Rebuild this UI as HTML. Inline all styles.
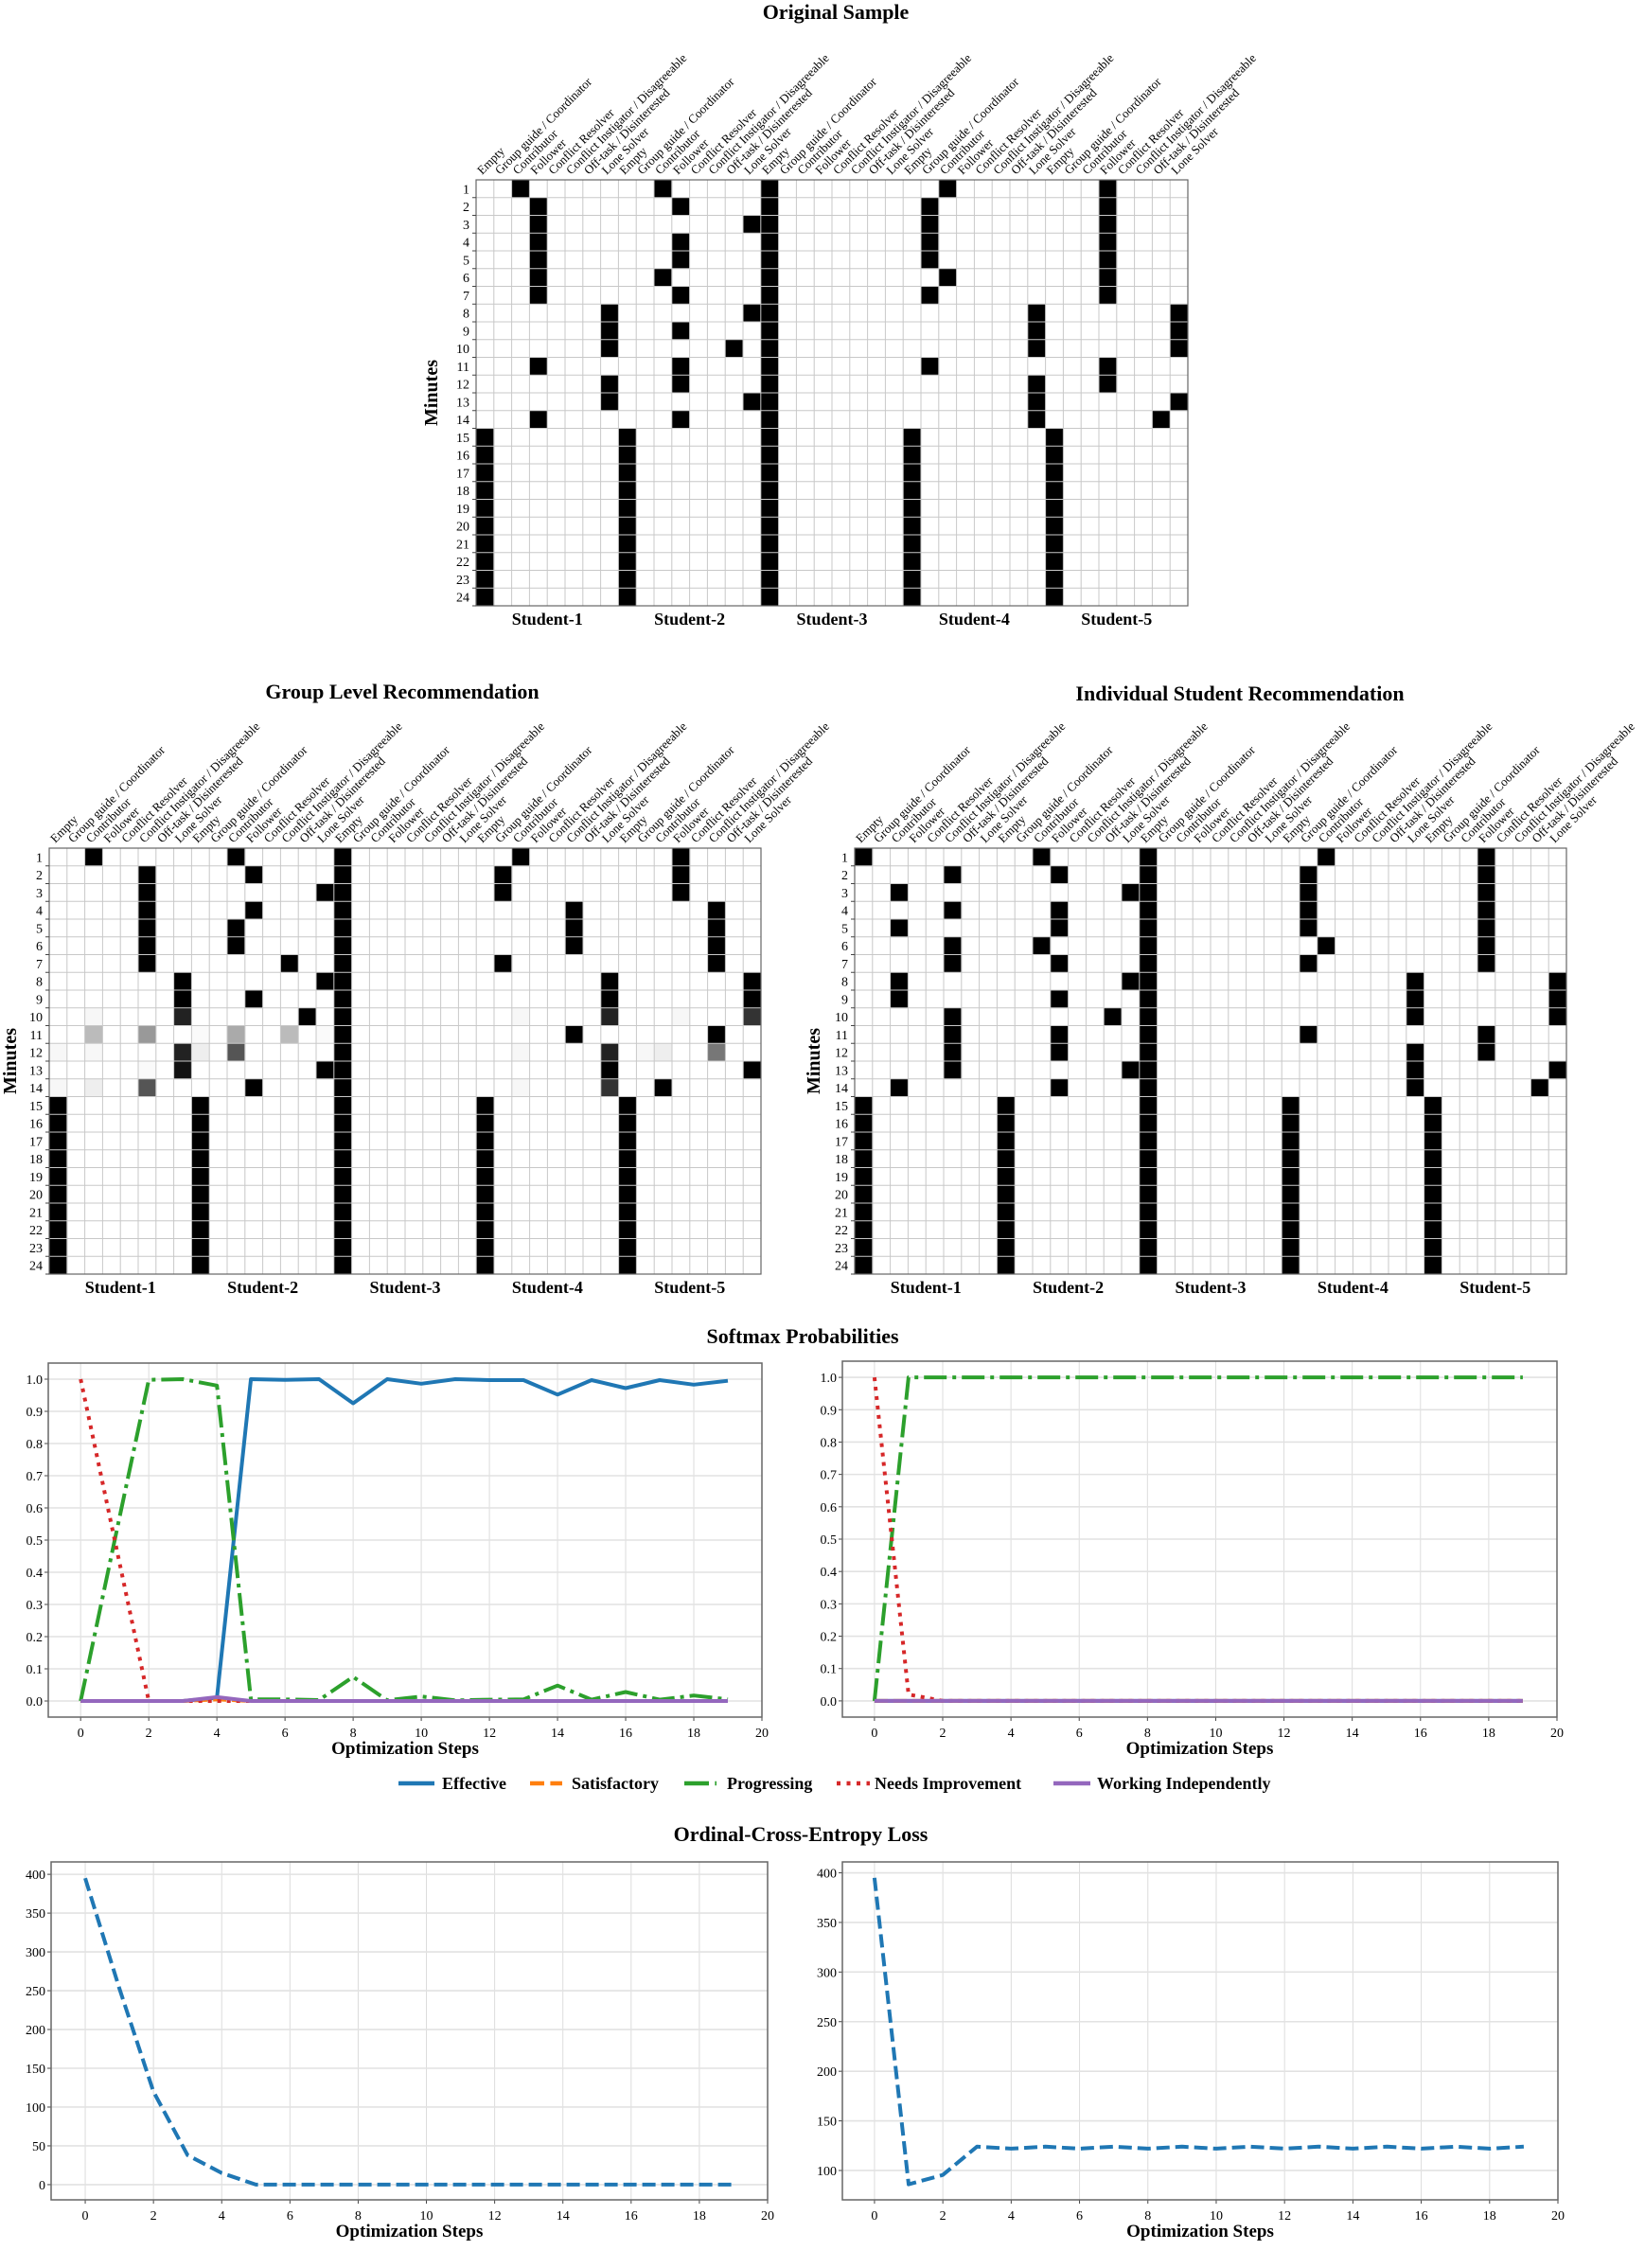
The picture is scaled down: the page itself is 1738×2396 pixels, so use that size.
<!DOCTYPE html>
<html><head><meta charset="utf-8">
<style>
html,body{margin:0;padding:0;background:#fff;}
svg{display:block;}
text{font-family:"Liberation Serif","Times New Roman",serif;fill:#000;}
</style></head>
<body>
<svg id="s" width="1738" height="2396" viewBox="0 0 1738 2396" xmlns="http://www.w3.org/2000/svg">
<rect width="1738" height="2396" fill="#fff"/>
<text x="883" y="20" font-size="22" font-weight="bold" text-anchor="middle">Original Sample</text>
<text x="425" y="738" font-size="22" font-weight="bold" text-anchor="middle">Group Level Recommendation</text>
<text x="1310" y="740" font-size="22" font-weight="bold" text-anchor="middle">Individual Student Recommendation</text>
<text x="848" y="1419" font-size="22" font-weight="bold" text-anchor="middle">Softmax Probabilities</text>
<text x="846" y="1945" font-size="22" font-weight="bold" text-anchor="middle">Ordinal-Cross-Entropy Loss</text>
<g id="legend" font-size="18" font-weight="bold">
<line x1="421" y1="1884" x2="459" y2="1884" stroke="#1f77b4" stroke-width="4.5"/>
<text x="467" y="1890">Effective</text>
<line x1="560" y1="1884" x2="594" y2="1884" stroke="#ff7f0e" stroke-width="4.5" stroke-dasharray="15 6.4"/>
<text x="604" y="1890">Satisfactory</text>
<line x1="723" y1="1884" x2="757" y2="1884" stroke="#2ca02c" stroke-width="4.5" stroke-dasharray="26 6.4 4 6.4"/>
<text x="768" y="1890">Progressing</text>
<line x1="884" y1="1884" x2="919" y2="1884" stroke="#d62728" stroke-width="4.5" stroke-dasharray="4 6.5"/>
<text x="924" y="1890">Needs Improvement</text>
<line x1="1113" y1="1884" x2="1152" y2="1884" stroke="#9467bd" stroke-width="4.5"/>
<text x="1159" y="1890">Working Independently</text>
</g>
</svg>
<script>
(function(){
var svg=document.getElementById('s');var NS='http://www.w3.org/2000/svg';
function el(tag,attrs,txt){var e=document.createElementNS(NS,tag);for(var k in attrs)e.setAttribute(k,attrs[k]);if(txt!==undefined)e.textContent=txt;svg.appendChild(e);return e;}
var roles=["Empty","Group guide / Coordinator","Contributor","Follower","Conflict Resolver","Conflict Instigator / Disagreeable","Off-task / Disinterested","Lone Solver"];
var CW=752/40,CH=450/24;
function tail(rows){for(var r=14;r<24;r++)rows.push([[0],[8],[24],[32]]);return rows;}
function heat(x0,y0,rows,minX){
  for(var r=0;r<24;r++){
    el('rect',{x:x0+16*CW,y:y0+r*CH,width:CW,height:CH,fill:'#000'});
    var row=rows[r];
    for(var i=0;i<row.length;i++){var c=row[i][0],col=row[i][1]||'#000';
      el('rect',{x:x0+c*CW,y:y0+r*CH,width:CW+0.3,height:CH+0.3,fill:col});}
  }
  for(var c=0;c<=40;c++)el('line',{x1:x0+c*CW,y1:y0,x2:x0+c*CW,y2:y0+450,stroke:'#c8c8c8','stroke-width':1});
  for(var r=0;r<=24;r++)el('line',{x1:x0,y1:y0+r*CH,x2:x0+752,y2:y0+r*CH,stroke:'#c8c8c8','stroke-width':1});
  el('rect',{x:x0,y:y0,width:752,height:450,fill:'none',stroke:'#666','stroke-width':1.2});
  for(var r=0;r<24;r++){
    el('text',{x:x0-7,y:y0+r*CH+CH/2+5,'font-size':14,'text-anchor':'end'},String(r+1));
    el('line',{x1:x0-4,y1:y0+(r+1)*CH,x2:x0,y2:y0+(r+1)*CH,stroke:'#444','stroke-width':1});
  }
  for(var c=0;c<40;c++){
    var cx=x0+c*CW+CW/2-3,cy=y0-5;
    el('text',{x:cx,y:cy,'font-size':13,transform:'rotate(-45 '+cx+' '+cy+')'},roles[c%8]);
  }
  for(var s=0;s<5;s++)el('text',{x:x0+(s*8+4)*CW,y:y0+470,'font-size':18,'font-weight':'bold','text-anchor':'middle'},'Student-'+(s+1));
  el('text',{x:minX,y:y0+225,'font-size':20,'font-weight':'bold','text-anchor':'middle',transform:'rotate(-90 '+minX+' '+(y0+225)+')'},'Minutes');
}
function R(a){return a.map(function(v){return Array.isArray(v)?v:[v];});}
var orig=tail([R([2,10,26,35]),R([3,11,25,35]),R([3,15,25,35]),R([3,11,25,35]),R([3,11,25,35]),R([3,10,26,35]),R([3,11,25,35]),R([7,15,31,39]),R([7,11,31,39]),R([7,14,31,39]),R([3,11,25,35]),R([7,11,31,35]),R([7,15,31,39]),R([3,11,31,38])]);
var F='#f7f7f7';
var grp=tail([R([2,10,26,35]),R([5,11,25,35]),R([5,15,25,35]),R([5,11,29,37]),R([5,10,29,37]),R([5,10,29,37]),R([5,13,25,37]),R([7,15,31,39]),R([7,11,31,39]),
 [[2,F],[26,F],[35,F],[7,'#222'],[14],[31,'#222'],[39,'#333']],
 [[8,'#fafafa'],[15,'#fafafa'],[2,'#bbb'],[5,'#999'],[10,'#aaa'],[13,'#bbb'],[29],[37]],
 [[0,F],[2,F],[26,F],[33,F],[7,'#222'],[8,'#eee'],[10,'#555'],[31,'#222'],[34,'#eee'],[37,'#777']],
 [[5,'#fafafa'],[7,'#111'],[15],[31],[39]],
 [[0,F],[26,F],[2,'#eee'],[5,'#555'],[11],[31,'#333'],[34]]]);
var ind=tail([R([0,10,26,35]),R([5,11,25,35]),R([2,15,25,35]),R([5,11,25,35]),R([2,11,25,35]),R([5,10,26,35]),R([5,11,25,35]),R([2,15,31,39]),R([2,11,31,39]),R([5,14,31,39]),R([5,11,25,35]),R([5,11,31,35]),R([5,15,31,39]),R([2,11,31,38])]);
heat(503,190,orig,462);
heat(52,896,grp,17);
heat(903,896,ind,866);

function plot(ax,xr,yr,yt,fmt,series){
  var sx=function(v){return ax.l+(v-xr[0])/(xr[1]-xr[0])*(ax.r-ax.l);};
  var sy=function(v){return ax.b-(v-yr[0])/(yr[1]-yr[0])*(ax.b-ax.t);};
  for(var x=0;x<=20;x+=2){var X=sx(x);
    el('line',{x1:X,y1:ax.t,x2:X,y2:ax.b,stroke:'#dcdcdc','stroke-width':1});
    el('line',{x1:X,y1:ax.b,x2:X,y2:ax.b+4,stroke:'#444','stroke-width':1});
    el('text',{x:X,y:ax.b+21,'font-size':14,'text-anchor':'middle'},String(x));}
  for(var i=0;i<yt.length;i++){var Y=sy(yt[i]);
    el('line',{x1:ax.l,y1:Y,x2:ax.r,y2:Y,stroke:'#e2e2e2','stroke-width':1.6});
    el('line',{x1:ax.l-4,y1:Y,x2:ax.l,y2:Y,stroke:'#444','stroke-width':1});
    el('text',{x:ax.l-6,y:Y+5,'font-size':14,'text-anchor':'end'},fmt(yt[i]));}
  series.forEach(function(s){
    var p=s.d.map(function(v,i){return sx(i).toFixed(1)+','+sy(v).toFixed(1);}).join(' ');
    var a={points:p,fill:'none',stroke:s.c,'stroke-width':4,'stroke-linejoin':'round'};
    if(s.da)a['stroke-dasharray']=s.da;
    el('polyline',a);
  });
  el('rect',{x:ax.l,y:ax.t,width:ax.r-ax.l,height:ax.b-ax.t,fill:'none',stroke:'#666','stroke-width':1.5});
  el('text',{x:(ax.l+ax.r)/2,y:ax.b+39,'font-size':19,'font-weight':'bold','text-anchor':'middle'},'Optimization Steps');
}
function Z(n){var a=[];for(var i=0;i<n;i++)a.push(0);return a;}
var pt=[];for(var i=0;i<=10;i++)pt.push(i/10);
var f1=function(v){return v.toFixed(1);};
var DD='24 6 4 6',DOT='4 6',DASH='14 6';
var eff=[0,0,0,0,0.01,1,0.998,1,0.925,1,0.986,1,0.997,0.997,0.952,0.997,0.972,0.997,0.983,0.995];
var prog=[0,0.5,0.998,1,0.98,0.005,0.005,0.003,0.075,0.002,0.014,0.002,0.004,0.005,0.048,0.004,0.028,0.004,0.017,0.005];
var sat=Z(20);sat[4]=0.005;
var ni=Z(20);ni[0]=1;ni[1]=0.5;
var wi=Z(20);wi[4]=0.012;
plot({l:51,r:805,t:1440,b:1814},[-0.95,20],[-0.05,1.05],pt,f1,[
 {d:eff,c:'#1f77b4'},{d:sat,c:'#ff7f0e',da:DASH},{d:prog,c:'#2ca02c',da:DD},{d:ni,c:'#d62728',da:DOT},{d:wi,c:'#9467bd'}]);
var prog2=Z(20).map(function(v,i){return i?1:0;});
var ni2=Z(20);ni2[0]=1;ni2[1]=0.02;
plot({l:890,r:1645,t:1438,b:1814},[-0.94,20],[-0.05,1.05],pt,f1,[
 {d:Z(20),c:'#1f77b4'},{d:Z(20),c:'#ff7f0e',da:DASH},{d:prog2,c:'#2ca02c',da:DD},{d:ni2,c:'#d62728',da:DOT},{d:Z(20),c:'#9467bd'}]);
var l1=[395,253,120,38,15,0,0,0,0,0,0,0,0,0,0,0,0,0,0,0];
var f0=function(v){return String(v);};
plot({l:54,r:811,t:1967,b:2324},[-1,20],[-19.6,416],[0,50,100,150,200,250,300,350,400],f0,[{d:l1,c:'#1f77b4',da:DASH}]);
var l2=[395,86,95.5,124];for(var i=4;i<20;i++)l2.push(i%2?124:122);
plot({l:890,r:1646,t:1967,b:2324},[-0.94,20],[70.4,411],[100,150,200,250,300,350,400],f0,[{d:l2,c:'#1f77b4',da:DASH}]);
})();
</script>
</body></html>
